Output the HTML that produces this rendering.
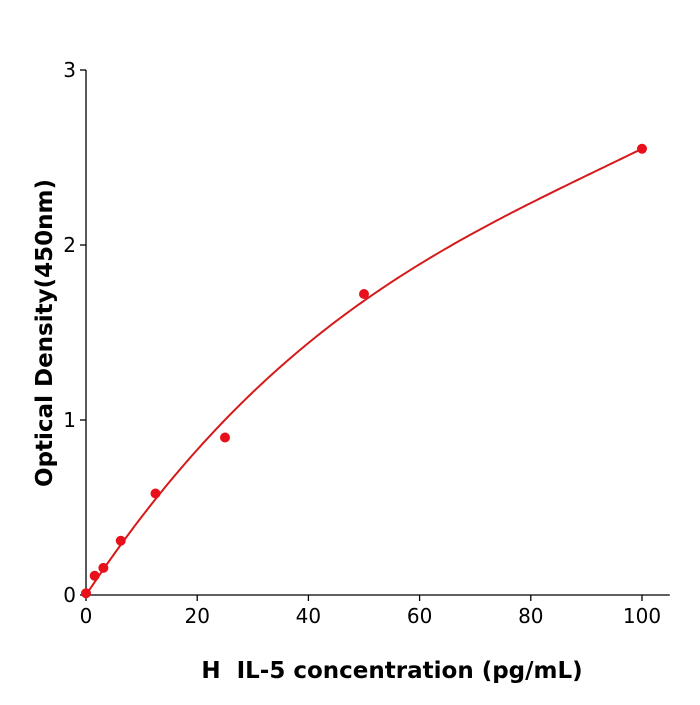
<!DOCTYPE html>
<html><head><meta charset="utf-8"><style>
html,body{margin:0;padding:0;background:#fff;}
svg text{font-family:"DejaVu Sans","Liberation Sans",sans-serif;}
</style></head><body>
<svg id="chart" width="700" height="700" viewBox="0 0 700 700" xmlns="http://www.w3.org/2000/svg">
<g id="axes"></g>
<g id="marks"></g>
<text x="392" y="678" text-anchor="middle" font-size="23" font-weight="bold">H&#160; IL-5 concentration (pg/mL)</text>
<text transform="translate(52,333) rotate(-90)" text-anchor="middle" font-size="23" font-weight="bold">Optical Density(450nm)</text>
</svg>
<script>
const concentrations=[0,1.56,3.125,6.25,12.5,25,50,100];
const odValues=[0.01,0.11,0.155,0.31,0.58,0.90,1.72,2.55];
const xTicks=[0,20,40,60,80,100];
const yTicks=[0,1,2,3];
const fitCoeffs=[0.0,0.048,-0.00035,0.00000125];
const NS="http://www.w3.org/2000/svg";
const x0=86,xPer=5.56,y0=595,yPer=175;
const sx=v=>x0+v*xPer, sy=v=>y0-v*yPer;
const axes=document.getElementById('axes'), marks=document.getElementById('marks');
function mk(tag,attrs,parent){const e=document.createElementNS(NS,tag);for(const k in attrs)e.setAttribute(k,attrs[k]);parent.appendChild(e);return e;}
let e=mk('line',{x1:x0,y1:sy(3),x2:x0,y2:y0+0.5,stroke:'#000','stroke-width':1.3},axes);


e=mk('line',{x1:x0,y1:y0,x2:sx(105),y2:y0,stroke:'#000','stroke-width':1.3},axes);


xTicks.forEach(t=>{
 const l=mk('line',{x1:sx(t),y1:y0,x2:sx(t),y2:y0+6,stroke:'#000','stroke-width':1.3},axes);
 
 
 const tx=mk('text',{x:sx(t),y:y0+28,'text-anchor':'middle','font-size':20},axes);tx.textContent=t;
 
 
});
yTicks.forEach(t=>{
 const l=mk('line',{x1:x0-6,y1:sy(t),x2:x0,y2:sy(t),stroke:'#000','stroke-width':1.3},axes);
 
 
 const tx=mk('text',{x:x0-10,y:sy(t)+7,'text-anchor':'end','font-size':20},axes);tx.textContent=t;
 
 
});
let d='';
for(let i=0;i<=200;i++){const xv=i*0.5;const yv=fitCoeffs[0]+fitCoeffs[1]*xv+fitCoeffs[2]*xv*xv+fitCoeffs[3]*xv*xv*xv;d+=(i?'L':'M')+sx(xv).toFixed(2)+','+sy(yv).toFixed(2);}
const p=mk('path',{d:d,fill:'none',stroke:'#d61a1a','stroke-width':2},marks);


concentrations.forEach((c,i)=>{
 const pt=mk('circle',{cx:sx(c),cy:sy(odValues[i]),r:5,fill:'#e8101a'},marks);
 
 
});
</script>
</body></html>
